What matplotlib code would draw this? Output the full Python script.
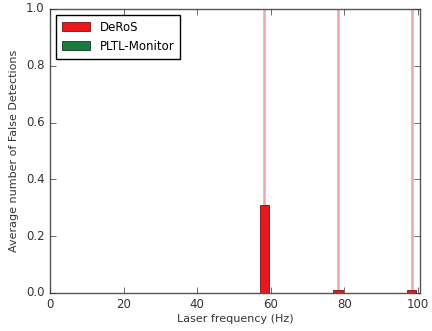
import numpy as np
import matplotlib
matplotlib.use("Agg")
import matplotlib.pyplot as plt

freqs = [60, 80, 100]
deros = [0.31, 0.01, 0.01]
deros_err = [1.2, 1.1, 1.1]
pltl = [0.0, 0.0, 0.0]

plt.style.use('classic')
plt.rcParams['font.size'] = 8

fig = plt.figure(figsize=(4.32, 3.31), dpi=100, facecolor='white')
ax = fig.add_axes([0.116, 0.115, 0.856, 0.858])

x = np.array(freqs)
w = 2.5
ax.bar(x - 1.75, deros, w, color='#e8191e', edgecolor='#7a1010', linewidth=0.6,
       label='DeRoS', zorder=2)
# error bars sit behind the bars
ax.errorbar(x - 1.75, deros, yerr=deros_err, fmt='none', ecolor='#eaa8aa',
            elinewidth=1.8, capsize=0, zorder=1)
ax.bar(x + 0.75, pltl, w, color='#1b7a3e', edgecolor='#0c3a1c', linewidth=0,
       label='PLTL-Monitor', zorder=2)

ax.set_xlim(0, 100.5)
ax.set_ylim(0, 1.0)
ax.set_xticks([0, 20, 40, 60, 80, 100])
ax.set_yticks([0.0, 0.2, 0.4, 0.6, 0.8, 1.0])
ax.set_xlabel('Laser frequency (Hz)', fontsize=8, color='#333333', labelpad=2)
ax.set_ylabel('Average number of False Detections', fontsize=8, color='#333333')
ax.tick_params(labelsize=8.5, colors='#333333')
for s in ax.spines.values():
    s.set_color('#555555')
leg = ax.legend(loc='upper left', fontsize=8.5, handlelength=2.4, borderpad=0.5)
leg.legend_handles[1].set_linewidth(0.6)

fig.savefig('out.png', dpi=100, facecolor='white')
